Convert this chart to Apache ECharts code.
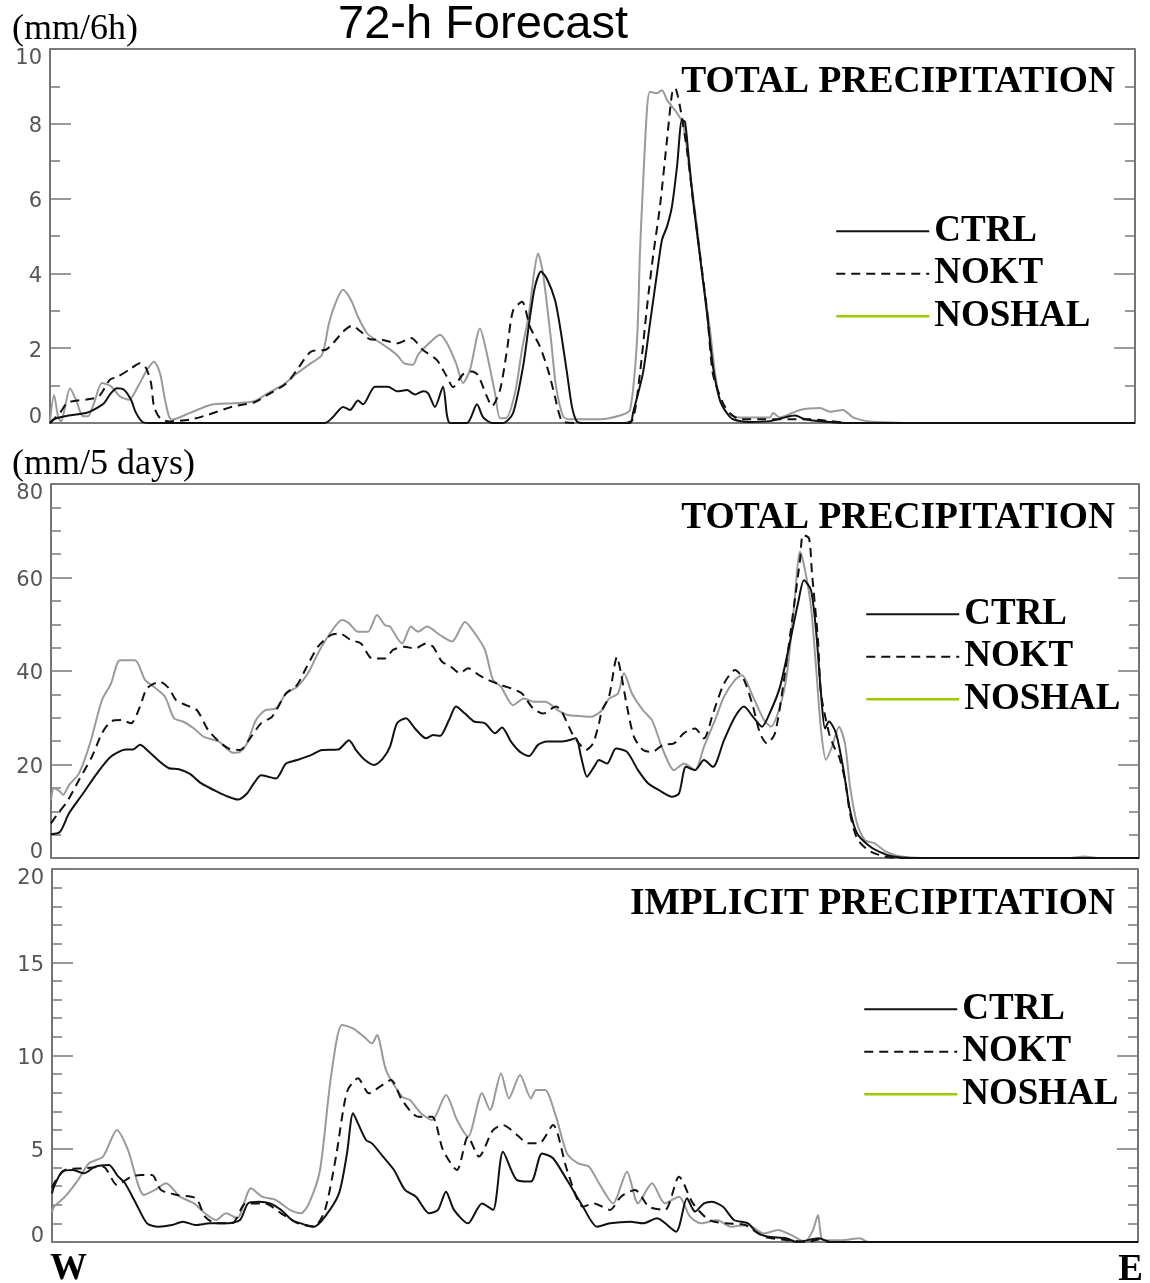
<!DOCTYPE html>
<html>
<head>
<meta charset="utf-8">
<script src="https://cdn.jsdelivr.net/npm/echarts@6/dist/echarts.min.js"></script>
<style>
html,body{margin:0;padding:0;background:#fff;}
#chart{width:1150px;height:1283px;}
</style>
</head>
<body>
<div id="chart"></div>
<script>
// ---- DATA (x = position along W-E section, y = precipitation) ----
const seriesNames = ['CTRL', 'NOKT', 'NOSHAL'];
const panelTitles = ['TOTAL PRECIPITATION', 'TOTAL PRECIPITATION', 'IMPLICIT PRECIPITATION'];
const unitLabels = ['(mm/6h)', '(mm/5 days)'];
const yMax = [10, 80, 20];
const yInterval = [2, 20, 5];
const yMinorSplit = [2, 4, 5];

// Panel 1: 72-h forecast, mm/6h
const ctrl6h = [[0,0],[4,0.1],[15,0.18],[36,0.27],[44,0.36],[54,0.53],[61,0.8],[67,0.93],[74,0.89],[81,0.62],[86,0.27],[93,0.02],[100,0],[275,0],[283,0.16],[293,0.43],[300,0.35],[308,0.6],[313,0.5],[325,0.97],[338,0.97],[347,0.85],[357,0.88],[365,0.76],[373,0.85],[378,0.8],[385,0.43],[393,0.97],[397,0.2],[400,0],[417,0],[427,0.5],[433,0.16],[442,0],[453,0],[463,0.26],[473,1.5],[480,2.84],[485,3.65],[491,4.05],[497,3.85],[505,3.29],[510,2.58],[517,1.34],[522,0.43],[527,0.04],[535,0],[580,0],[583,0.27],[593,1.34],[600,2.67],[607,4.0],[612,4.9],[617,5.25],[622,5.8],[627,6.85],[632,8.1],[635,8.05],[638,7.3],[643,5.96],[650,4.45],[657,2.94],[663,1.5],[670,0.6],[677,0.26],[683,0.1],[700,0.03],[720,0.05],[735,0.15],[745,0.2],[755,0.1],[770,0.05],[800,0],[1085,0]];
const nokt6h = [[0,0],[10,0.27],[17,0.53],[27,0.6],[40,0.64],[49,0.71],[60,1.16],[67,1.23],[79,1.42],[90,1.6],[96,1.47],[101,1.07],[104,0.44],[110,0.13],[119,0.04],[140,0.09],[158,0.22],[183,0.44],[204,0.55],[218,0.76],[236,1.05],[247,1.42],[261,1.91],[276,1.96],[283,2.13],[293,2.44],[302,2.6],[311,2.44],[320,2.24],[333,2.22],[347,2.13],[361,2.27],[373,1.95],[387,1.68],[397,1.23],[403,0.96],[413,1.3],[422,1.38],[428,1.28],[437,0.7],[442,0.45],[450,0.88],[457,1.95],[463,3.0],[472,3.24],[480,2.57],[490,2.04],[498,1.42],[505,0.7],[508,0.35],[513,0.03],[530,0],[575,0],[583,0.1],[590,1.34],[597,3.1],[603,4.45],[610,5.8],[617,7.57],[622,8.8],[625,8.96],[630,8.46],[637,7.3],[643,5.96],[650,4.5],[657,3.0],[663,1.3],[673,0.53],[680,0.26],[690,0.1],[760,0.1],[780,0.05],[800,0],[1085,0]];
const noshal6h = [[0,0.04],[4,0.75],[8,0.18],[11,0.04],[20,0.93],[26,0.62],[33,0.18],[38,0.18],[44,0.53],[52,1.07],[61,0.98],[70,0.71],[79,0.62],[88,0.98],[97,1.42],[104,1.64],[110,1.33],[115,0.62],[119,0.18],[122,0.09],[140,0.27],[161,0.49],[183,0.53],[204,0.58],[218,0.8],[233,1.02],[247,1.33],[261,1.6],[272,1.82],[279,2.67],[286,3.24],[293,3.56],[301,3.29],[308,2.84],[317,2.4],[326,2.22],[336,2.04],[347,1.82],[354,1.6],[363,1.56],[368,1.82],[379,2.13],[390,2.36],[397,2.13],[406,1.6],[413,1.07],[420,1.42],[430,2.53],[436,1.96],[445,0.8],[450,0.13],[456,0.13],[465,0.8],[472,1.96],[479,2.93],[484,4.0],[488,4.53],[493,4.0],[501,2.22],[506,0.98],[513,0.18],[518,0.1],[550,0.1],[570,0.2],[580,0.35],[587,2.2],[590,4.6],[592,5.8],[597,8.4],[600,8.86],[607,8.82],[612,8.9],[617,8.64],[627,8.29],[633,8.0],[640,6.68],[647,5.25],[653,3.82],[660,2.49],[665,1.34],[670,0.6],[677,0.26],[690,0.15],[720,0.15],[723,0.27],[730,0.15],[750,0.35],[770,0.4],[780,0.3],[793,0.35],[803,0.15],[817,0.05],[833,0.02],[860,0],[1085,0]];

// Panel 2: total precipitation, mm/5 days
const ctrl5d = [[0,5.1],[9,5.6],[18,9.55],[32,13.8],[46,18.1],[60,21.7],[75,23.2],[82,23.2],[89,24.2],[96,23.1],[107,20.95],[118,19.2],[128,19.0],[139,18.0],[150,16.0],[164,14.4],[175,13.3],[187,12.5],[196,13.8],[203,16.0],[210,17.7],[217,17.4],[225,17.0],[235,20.2],[246,20.95],[260,22.0],[271,23.1],[287,23.2],[298,25.2],[305,23.1],[314,20.95],[323,19.9],[332,21.3],[339,23.8],[346,28.8],[355,29.9],[364,27.7],[375,25.6],[382,26.3],[389,26.1],[398,29.5],[405,32.4],[414,30.9],[423,29.2],[434,28.8],[444,26.7],[451,27.9],[460,24.9],[469,22.7],[478,21.8],[487,24.2],[496,24.9],[507,24.9],[516,25.1],[525,25.6],[530,21.7],[536,17.4],[543,19.5],[548,20.95],[556,20.2],[565,23.4],[576,22.7],[587,18.8],[597,16.0],[608,14.5],[621,13.1],[628,13.8],[635,19.5],[644,18.8],[653,20.95],[662,19.5],[673,25.2],[684,30.2],[693,32.4],[702,30.2],[711,28.1],[720,31.6],[729,36.6],[738,45.2],[747,54.5],[753,59.4],[760,57.3],[765,48.8],[770,35.2],[774,27.7],[778,29.2],[785,26.7],[792,19.5],[799,10.3],[806,5.3],[817,2.8],[828,1.35],[842,0.3],[860,0],[1088,0]];
const nokt5d = [[0,7.4],[7,9.55],[16,12.0],[28,16.7],[41,21.7],[51,26.7],[60,29.2],[71,29.5],[80,28.8],[89,32.4],[96,36.3],[109,37.7],[118,36.3],[125,33.8],[135,32.7],[146,31.6],[157,27.4],[168,24.9],[178,23.4],[189,23.1],[200,25.9],[210,28.8],[221,30.2],[235,35.2],[246,37.0],[255,40.6],[267,45.2],[280,47.7],[289,48.0],[300,46.6],[310,45.9],[321,42.7],[334,42.7],[342,44.5],[353,45.2],[364,44.8],[375,45.9],[382,45.2],[391,42.0],[400,40.9],[409,39.5],[417,40.6],[428,39.1],[437,38.1],[450,37.0],[460,36.3],[471,35.2],[482,32.0],[492,30.9],[505,32.4],[510,31.6],[521,26.7],[528,24.5],[535,23.1],[542,24.5],[548,28.8],[551,31.6],[558,34.5],[566,43.0],[570,39.5],[576,32.4],[583,25.9],[592,23.1],[601,22.7],[612,24.2],[623,24.5],[633,26.7],[644,27.7],[653,25.6],[662,30.9],[673,37.3],[684,40.2],[693,38.1],[702,32.4],[709,26.7],[716,24.5],[724,26.7],[733,38.1],[742,52.3],[749,63.7],[752,69.1],[758,68.4],[761,60.9],[767,46.6],[770,35.2],[778,26.7],[783,23.8],[788,21.7],[794,16.7],[799,9.55],[806,4.2],[817,1.7],[832,0.4],[846,0],[1088,0]];
const noshal5d = [[0,12.4],[3,14.9],[9,14.2],[12,13.5],[18,15.6],[28,18.1],[39,24.5],[51,33.8],[60,37.3],[69,42.3],[84,42.3],[94,38.1],[103,36.6],[114,34.5],[123,29.9],[132,29.2],[143,27.7],[153,25.9],[168,24.9],[182,22.5],[189,22.7],[196,24.5],[205,29.5],[214,31.6],[225,32.0],[235,35.2],[246,36.6],[257,39.5],[267,43.8],[278,47.7],[291,50.9],[298,50.2],[307,48.4],[317,48.4],[326,52.0],[334,49.8],[339,49.5],[351,45.9],[360,49.5],[367,48.4],[376,49.5],[389,47.7],[401,46.3],[414,50.5],[425,47.7],[434,44.5],[442,38.1],[450,36.6],[462,32.7],[473,34.1],[483,33.4],[494,33.4],[507,31.6],[517,30.6],[528,30.4],[540,30.2],[551,31.6],[558,34.1],[567,35.2],[573,39.5],[581,35.2],[592,31.6],[601,29.5],[612,23.1],[623,18.8],[633,20.2],[644,18.8],[653,23.8],[664,29.5],[673,34.5],[684,38.1],[691,39.1],[702,34.5],[713,29.5],[720,28.1],[729,32.4],[736,39.5],[743,53.7],[749,65.5],[754,61.6],[760,53.7],[765,40.9],[770,27.4],[775,21.0],[781,23.8],[788,28.1],[794,24.5],[799,15.3],[806,7.4],[814,3.8],[824,3.1],[835,1.35],[850,0.3],[871,0],[1019,0],[1033,0.3],[1047,0],[1088,0]];

// Panel 3: implicit precipitation, mm/5 days
const ctrlImp = [[0,2.6],[2,2.97],[10,3.77],[21,3.86],[32,3.68],[43,4.04],[57,4.13],[65,3.59],[73,3.15],[84,2.07],[95,1.0],[106,0.82],[120,0.91],[131,1.09],[144,0.91],[158,1.0],[174,1.0],[188,1.18],[196,2.07],[207,2.16],[218,2.07],[229,1.72],[240,1.18],[254,0.91],[262,0.82],[273,1.36],[287,2.61],[295,4.75],[301,6.9],[306,6.36],[314,5.47],[320,5.29],[331,4.58],[342,3.86],[353,2.79],[364,2.43],[377,1.54],[386,1.72],[394,2.7],[402,1.72],[416,1.0],[430,2.07],[441,1.72],[451,4.84],[465,3.32],[479,3.24],[490,4.75],[501,4.49],[515,3.32],[531,1.89],[545,0.82],[558,1.0],[578,1.09],[591,1.0],[605,1.27],[624,0.55],[635,2.34],[643,1.63],[652,2.07],[660,2.16],[671,1.89],[682,1.18],[696,1.0],[704,0.55],[715,0.29],[734,0.2],[745,0],[767,0.2],[778,0],[1086,0]];
const noktImp = [[0,2.9],[2,3.15],[13,3.86],[32,3.95],[51,4.04],[65,3.06],[79,3.5],[89,3.59],[100,3.59],[109,2.79],[125,2.52],[144,2.34],[153,1.36],[164,1.0],[180,1.0],[194,2.07],[213,2.07],[229,1.54],[246,1.0],[262,0.82],[273,1.72],[284,4.58],[295,8.06],[306,8.78],[317,7.97],[328,8.33],[339,8.69],[350,7.61],[366,6.72],[380,6.72],[391,4.93],[405,3.86],[416,5.65],[427,4.58],[441,6.0],[451,6.27],[465,5.74],[476,5.29],[487,5.29],[501,6.27],[515,3.86],[531,1.89],[542,2.07],[558,1.72],[569,2.43],[583,2.79],[597,1.89],[613,1.72],[627,3.5],[641,2.07],[657,1.18],[674,1.0],[693,0.91],[712,0.29],[734,0.11],[756,0],[767,0.14],[778,0],[1086,0]];
const noshalImp = [[0,1.6],[2,1.89],[13,2.43],[26,3.32],[37,4.22],[51,4.58],[65,6.0],[76,4.93],[92,2.52],[103,2.79],[114,3.15],[128,2.43],[142,2.07],[153,1.54],[164,1.18],[174,1.54],[185,1.27],[199,2.88],[210,2.43],[224,2.25],[238,1.72],[249,1.54],[257,2.07],[268,3.86],[279,8.87],[290,11.64],[301,11.46],[312,11.0],[320,10.65],[325,11.1],[334,9.22],[350,7.79],[358,7.61],[369,6.9],[380,6.54],[394,7.88],[405,6.54],[416,5.65],[430,7.97],[438,7.08],[449,9.04],[457,7.7],[468,8.95],[479,7.7],[484,8.15],[493,8.15],[504,6.72],[515,4.75],[526,4.22],[537,4.04],[547,3.15],[561,2.07],[575,3.77],[586,2.07],[600,3.15],[613,2.07],[627,2.43],[638,1.36],[649,1.0],[665,1.18],[679,0.82],[696,0.91],[712,0.46],[726,0.64],[739,0.38],[753,0.02],[761,0.64],[766,1.45],[771,0.1],[789,0.1],[808,0.2],[816,0],[1086,0]];

const panelData = [
  [ctrl6h, nokt6h, noshal6h],
  [ctrl5d, nokt5d, noshal5d],
  [ctrlImp, noktImp, noshalImp]
];

// ---- LAYOUT / STYLE ----
const grids = [
  {left: 50, top: 49, width: 1085, height: 374},
  {left: 51, top: 484, width: 1088, height: 374},
  {left: 52, top: 869, width: 1086, height: 373}
];
const legendPos = [
  {left: 835, top: 210},
  {left: 865, top: 593},
  {left: 863, top: 988}
];
const titleY = [82, 518, 904];
const lineStyles = [
  {color: '#111', width: 2, type: 'solid'},
  {color: '#111', width: 2, type: [9, 6]},
  {color: '#9a9a9a', width: 2, type: 'solid'}
];
const axisGray = '#7a7a7a';
const labelBase = {fontFamily: 'DejaVu Sans', fontSize: 21, color: '#555'};

const option = {
  animation: false,
  backgroundColor: '#fff',
  grid: grids.map(g => Object.assign({show: true, borderColor: '#000', borderWidth: 1.2, backgroundColor: 'transparent'}, g)),
  xAxis: grids.map((g, i) => ({
    type: 'value', gridIndex: i, min: 0, max: g.width,
    axisLine: {show: true, lineStyle: {color: axisGray, width: 1.5}},
    axisTick: {show: false}, axisLabel: {show: false}, splitLine: {show: false}
  })),
  yAxis: [],
  legend: [],
  series: [],
  graphic: []
};

grids.forEach((g, i) => {
  const mx = yMax[i];
  ['left', 'right'].forEach(pos => {
    option.yAxis.push({
      type: 'value', gridIndex: i, position: pos, min: 0, max: mx, interval: yInterval[i],
      axisLine: {show: true, lineStyle: {color: axisGray, width: 1.5}},
      axisTick: {show: true, inside: true, length: 21, lineStyle: {color: axisGray, width: 1.5}},
      minorTick: {show: true, splitNumber: yMinorSplit[i], length: 10, lineStyle: {color: axisGray, width: 1.5}},
      splitLine: {show: false}, minorSplitLine: {show: false},
      axisLabel: pos === 'left' ? {
        show: true, margin: 8,
        formatter: v => (v === mx ? '{mx|' + v + '}' : (v === 0 ? '{mn|' + v + '}' : '{md|' + v + '}')),
        rich: {
          mx: Object.assign({padding: [20, 0, 0, 0]}, labelBase),
          mn: Object.assign({padding: [0, 0, 11, 0]}, labelBase),
          md: Object.assign({padding: [6, 0, 0, 0]}, labelBase)
        }
      } : {show: false}
    });
  });

  // series: draw NOSHAL first, then NOKT, then CTRL on top
  [2, 1, 0].forEach(k => {
    option.series.push({
      type: 'line', name: seriesNames[k], xAxisIndex: i, yAxisIndex: i * 2,
      data: panelData[i][k], symbol: 'none', showSymbol: false, smooth: 0.25,
      lineStyle: lineStyles[k], itemStyle: {color: lineStyles[k].color},
      z: 3 - k
    });
  });

  option.legend.push(Object.assign({
    orient: 'vertical', padding: 0, itemGap: 0, itemWidth: 93, itemHeight: 6,
    selectedMode: false,
    itemStyle: {opacity: 0},
    textStyle: {fontFamily: 'Liberation Serif', fontWeight: 'bold', fontSize: 37, color: '#000', lineHeight: 42.5},
    data: [
      {name: 'CTRL'},
      {name: 'NOKT'},
      {name: 'NOSHAL', lineStyle: {color: '#99cc00', width: 2.5, type: 'solid'}}
    ]
  }, legendPos[i]));

  option.graphic.push({
    type: 'text', x: 1115, y: titleY[i], z: 10,
    style: {text: panelTitles[i], align: 'right', verticalAlign: 'middle',
      font: 'bold 37.5px "Liberation Serif"', fill: '#000'}
  });
});

option.graphic.push(
  {type: 'text', x: 483, y: 25, style: {text: '72-h Forecast', align: 'center', verticalAlign: 'middle', font: '47px "Liberation Sans"', fill: '#000'}},
  {type: 'text', x: 12, y: 30, style: {text: unitLabels[0], align: 'left', verticalAlign: 'middle', font: '36px "Liberation Serif"', fill: '#000'}},
  {type: 'text', x: 12, y: 465, style: {text: unitLabels[1], align: 'left', verticalAlign: 'middle', font: '36px "Liberation Serif"', fill: '#000'}},
  {type: 'text', x: 50, y: 1269, style: {text: 'W', align: 'left', verticalAlign: 'middle', font: 'bold 37px "Liberation Serif"', fill: '#000'}},
  {type: 'text', x: 1143, y: 1270, style: {text: 'E', align: 'right', verticalAlign: 'middle', font: 'bold 37px "Liberation Serif"', fill: '#000'}}
);

const chart = echarts.init(document.getElementById('chart'), null, {renderer: 'canvas'});
chart.setOption(option);
</script>
</body>
</html>
